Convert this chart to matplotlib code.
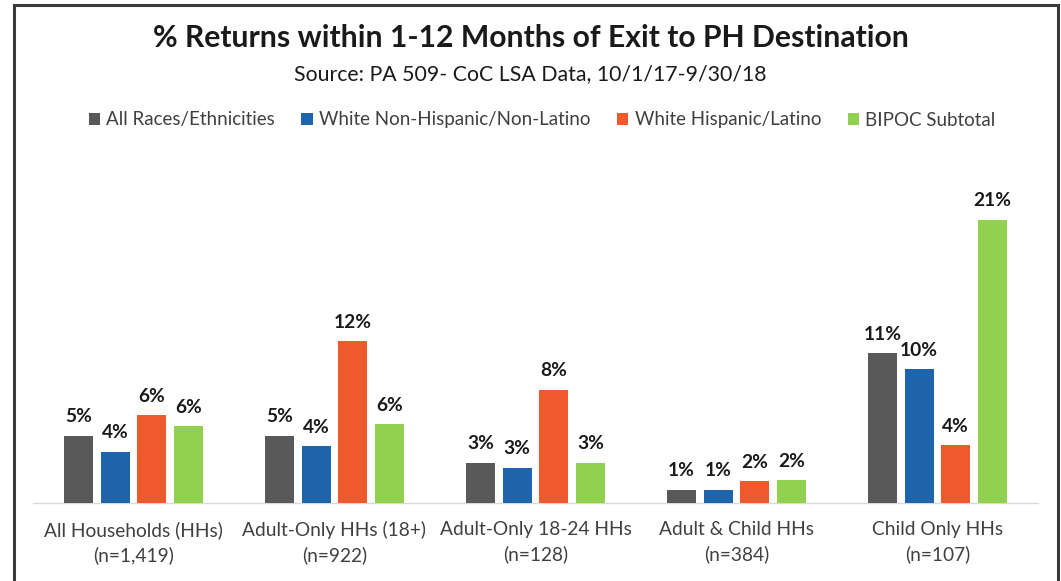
import matplotlib
matplotlib.use("Agg")
import matplotlib.pyplot as plt
from matplotlib.patches import Rectangle, Patch
import numpy as np

# Household groups on the x axis (two-line labels)
categories = [
    "All Households (HHs)\n(n=1,419)",
    "Adult-Only HHs (18+)\n(n=922)",
    "Adult-Only 18-24 HHs\n(n=128)",
    "Adult & Child HHs\n(n=384)",
    "Child Only HHs\n(n=107)",
]

series_names = [
    "All Races/Ethnicities",
    "White Non-Hispanic/Non-Latino",
    "White Hispanic/Latino",
    "BIPOC Subtotal",
]

# Percent of households returning within 1-12 months
all_races = [5.0, 5.0, 3.0, 1.0, 11.1]
white_non_hispanic = [3.8, 4.2, 2.6, 1.0, 9.9]
white_hispanic = [6.5, 12.0, 8.4, 1.6, 4.3]
bipoc = [5.7, 5.85, 3.0, 1.7, 21.0]

series_values = [all_races, white_non_hispanic, white_hispanic, bipoc]
colors = ["#595959", "#1F65AE", "#EE5A2B", "#92D050"]

plt.rcParams["font.family"] = ["Lato", "DejaVu Sans"]

W, H = 1061, 581
fig = plt.figure(figsize=(W / 100, H / 100), dpi=100)
fig.patch.set_facecolor("white")

# Outer frame around the chart area
frame = Rectangle((14 / W, -0.05), (1058 - 14) / W, 1.05 - 5 / H,
                  transform=fig.transFigure, fill=False,
                  edgecolor="#3a3a3a", linewidth=2.2, zorder=10)
fig.patches.append(frame)

ax_left, ax_right = 33 / W, 1038 / W
ax_bottom, ax_top = (H - 503) / H, (H - 179) / H
ax = fig.add_axes([ax_left, ax_bottom, ax_right - ax_left, ax_top - ax_bottom])

x = np.arange(len(categories))
bar_w = 0.144
step = 0.182
for j, (vals, col) in enumerate(zip(series_values, colors)):
    pos = x + (j - 1.5) * step
    bars = ax.bar(pos, vals, width=bar_w, color=col, zorder=3)
    for b, v in zip(bars, vals):
        ax.annotate(f"{v:.0f}%", (b.get_x() + b.get_width() / 2, v),
                    xytext=(0, 7.5), textcoords="offset points",
                    ha="center", va="bottom", fontsize=13.8,
                    fontweight="bold", color="#1a1a1a")

ax.set_xlim(-0.5, len(categories) - 0.5)
ax.set_ylim(0, 24)
ax.set_yticks([])
ax.set_xticks(x)
ax.set_xticklabels(categories, fontsize=13.8, color="#404040", linespacing=1.5)
ax.tick_params(axis="x", length=0, pad=13)
for side in ["top", "right", "left"]:
    ax.spines[side].set_visible(False)
ax.spines["bottom"].set_color("#d9d9d9")
ax.spines["bottom"].set_linewidth(1.0)
ax.set_facecolor("white")

fig.text(0.5, (H - 38) / H, "% Returns within 1-12 Months of Exit to PH Destination",
         ha="center", va="center", fontsize=21.7, fontweight="bold", color="#1a1a1a")
fig.text(0.5, (H - 74) / H, "Source: PA 509- CoC LSA Data, 10/1/17-9/30/18",
         ha="center", va="center", fontsize=15.3, color="#1a1a1a")

handles = [Patch(facecolor=c, edgecolor="none") for c in colors]
fig.legend(handles, series_names, loc="center", bbox_to_anchor=(0.511, (H - 120) / H),
           ncol=4, frameon=False, fontsize=13.5, labelcolor="#404040",
           handlelength=0.6, handleheight=0.6, handletextpad=0.35, columnspacing=1.4)

fig.savefig("out.png", dpi=100, facecolor="white")
